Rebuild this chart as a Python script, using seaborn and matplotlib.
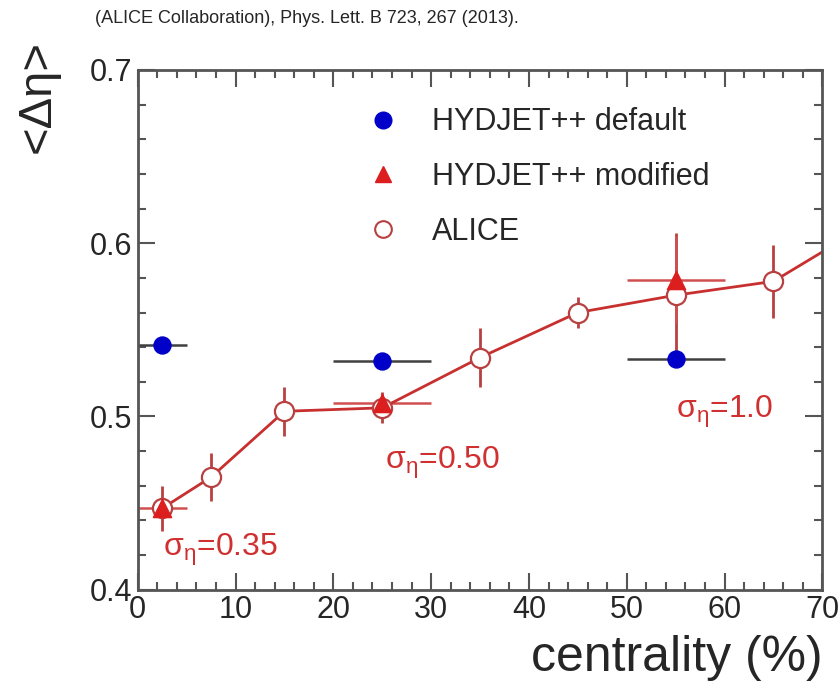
import numpy as np
import pandas as pd
import seaborn as sns
import matplotlib.pyplot as plt
from matplotlib.lines import Line2D
from matplotlib.ticker import MultipleLocator

# HYDJET++ default
def_x = [2.5, 25, 55]
def_y = [0.541, 0.532, 0.533]
def_xerr = [2.5, 5, 5]

# HYDJET++ modified
mod_x = [2.5, 25, 55]
mod_y = [0.447, 0.508, 0.579]
mod_xerr = [2.5, 5, 5]
mod_yerr = [0.0, 0.0, 0.025]

# ALICE data
alice_x = [2.5, 7.5, 15, 25, 35, 45, 55, 65]
alice_y = [0.447, 0.465, 0.503, 0.505, 0.534, 0.560, 0.570, 0.578]
alice_yerr = [0.013, 0.014, 0.014, 0.009, 0.017, 0.009, 0.036, 0.021]

# line through ALICE points
line_x = [2.5, 7.5, 15, 25, 35, 45, 55, 65, 70]
line_y = [0.447, 0.465, 0.503, 0.505, 0.534, 0.560, 0.570, 0.578, 0.595]

labels = ["HYDJET++ default", "HYDJET++ modified", "ALICE"]
notes = [r"$\mathregular{σ_{η}}$=0.35", r"$\mathregular{σ_{η}}$=0.50", r"$\mathregular{σ_{η}}$=1.0"]
note_x = [2.6, 25.3, 55.0]
note_y = [0.4196, 0.470, 0.499]

BLUE = "#0000c8"
RED = "#dc1e1e"
DRED = "#b84040"

sns.set_theme(style="ticks")
plt.rcParams["font.family"] = ["Liberation Sans", "DejaVu Sans"]

fig = plt.figure(figsize=(8.4, 6.93), dpi=100)
ax = fig.add_axes([0.164, 0.149, 0.815, 0.750])

line_df = pd.DataFrame({"x": line_x, "y": line_y})
sns.lineplot(data=line_df, x="x", y="y", ax=ax, color="#c83030", lw=2, sort=False, zorder=2)

ax.errorbar(alice_x, alice_y, yerr=alice_yerr, fmt="none", ecolor=DRED, elinewidth=2, zorder=1)
ax.errorbar(def_x, def_y, xerr=def_xerr, fmt="none", ecolor="#404040", elinewidth=1.8, zorder=1)
ax.errorbar(mod_x, mod_y, xerr=mod_xerr, yerr=mod_yerr, fmt="none", ecolor="#d05050", elinewidth=1.8, zorder=1)

alice_df = pd.DataFrame({"x": alice_x, "y": alice_y})
sns.scatterplot(data=alice_df, x="x", y="y", ax=ax, marker="o", s=190, facecolor="white",
                edgecolor=DRED, linewidth=1.6, zorder=3)
mod_df = pd.DataFrame({"x": mod_x, "y": mod_y})
sns.scatterplot(data=mod_df, x="x", y="y", ax=ax, marker="^", s=170, color=RED,
                edgecolor=RED, zorder=4)
def_df = pd.DataFrame({"x": def_x, "y": def_y})
sns.scatterplot(data=def_df, x="x", y="y", ax=ax, marker="o", s=150, color=BLUE,
                edgecolor=BLUE, zorder=4)

for t, x, y in zip(notes, note_x, note_y):
    ax.text(x, y, t, color="#d03030", fontsize=23, ha="left", va="baseline")

ax.set_xlim(0, 70)
ax.set_ylim(0.4, 0.7)
ax.xaxis.set_major_locator(MultipleLocator(10))
ax.xaxis.set_minor_locator(MultipleLocator(2))
ax.yaxis.set_major_locator(MultipleLocator(0.1))
ax.yaxis.set_minor_locator(MultipleLocator(0.02))
ax.tick_params(which="both", direction="in", top=True, right=True, width=1.5, color="#555555",
               labelsize=22, pad=4)
ax.tick_params(which="major", length=12)
ax.tick_params(which="minor", length=6)
for s in ax.spines.values():
    s.set_linewidth(2)
    s.set_color("#555555")

ax.set_xlabel("centrality (%)", fontsize=36, loc="right", labelpad=7)
ax.set_ylabel("<Δη>", fontsize=34, loc="top")
ax.yaxis.set_label_coords(-0.114, 1.058)

handles = [
    Line2D([], [], ls="none", marker="o", ms=12, color=BLUE),
    Line2D([], [], ls="none", marker="^", ms=12, color=RED),
    Line2D([], [], ls="none", marker="o", ms=12, mfc="white", mec=DRED, mew=1.5),
]
ax.legend(handles, labels, loc="upper left", bbox_to_anchor=(0.336, 0.928), frameon=False,
          fontsize=22, handlelength=1.0, handletextpad=1.1, labelspacing=0.81, borderpad=0,
          borderaxespad=0)

fig.text(0.113, 0.986, "(ALICE Collaboration), Phys. Lett. B 723, 267 (2013).",
         fontsize=13, ha="left", va="top")

fig.savefig("out.png", dpi=100)
